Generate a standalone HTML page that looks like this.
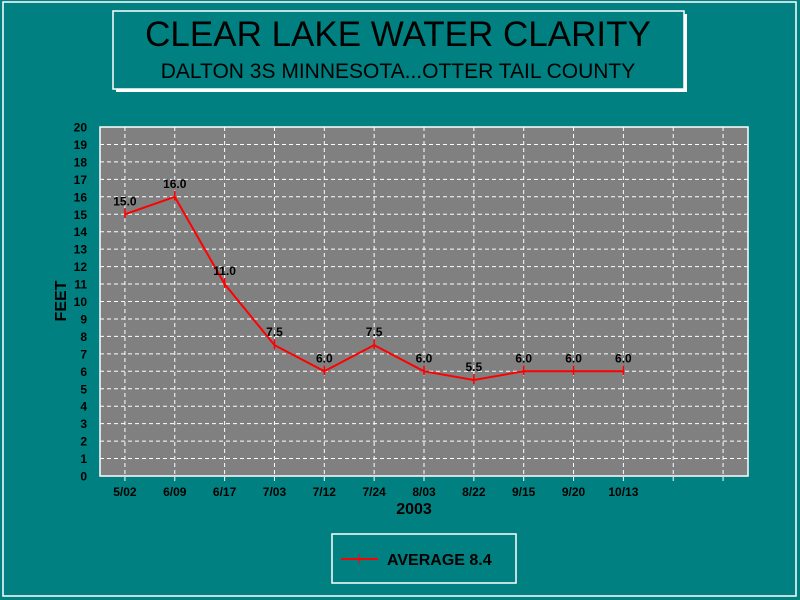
<!DOCTYPE html>
<html><head><meta charset="utf-8"><style>
body{margin:0;background:#008080;}
svg{display:block;font-family:"Liberation Sans",Arial,sans-serif;}
</style></head><body>
<svg id="chart" width="800" height="600">
<rect x="0" y="0" width="800" height="600" fill="#008080"/>
<rect x="3" y="2" width="793" height="594" fill="none" stroke="#fff" stroke-width="1.5"/>
<g>
<rect x="116" y="14" width="571" height="78" fill="#fff"/>
<rect x="113" y="11" width="571" height="78" fill="#008080" stroke="#fff" stroke-width="1.5"/>
<text x="398" y="46" font-size="35" text-anchor="middle" fill="#000">CLEAR LAKE WATER CLARITY</text>
<text x="398" y="78" font-size="21" text-anchor="middle" fill="#000">DALTON 3S MINNESOTA...OTTER TAIL COUNTY</text>
</g>
<rect x="100" y="127" width="648" height="349" fill="#808080" stroke="#fff" stroke-width="1.5"/>
<g id="grid"></g>
<g id="yticks"></g>
<g id="xticks"></g>
<text x="414" y="514" font-size="16" font-weight="bold" text-anchor="middle">2003</text>
<text transform="translate(66,301) rotate(-90)" font-size="16" font-weight="bold" text-anchor="middle">FEET</text>
<g id="series"></g>
<g>
<rect x="332" y="534" width="184" height="49" fill="none" stroke="#fff" stroke-width="1.5"/>
<line x1="341" y1="559" x2="378" y2="559" stroke="#f00" stroke-width="2"/>
<line x1="359" y1="554" x2="359" y2="564" stroke="#f00" stroke-width="1"/>
<text x="387" y="565" font-size="16" font-weight="bold">AVERAGE 8.4</text>
</g>
</svg>
<script>
const categories=["5/02","6/09","6/17","7/03","7/12","7/24","8/03","8/22","9/15","9/20","10/13","",""];
const values=[15.0,16.0,11.0,7.5,6.0,7.5,6.0,5.5,6.0,6.0,6.0];
const valueLabels=["15.0","16.0","11.0","7.5","6.0","7.5","6.0","5.5","6.0","6.0","6.0"];
const yTicks=[0,1,2,3,4,5,6,7,8,9,10,11,12,13,14,15,16,17,18,19,20];
const NS="http://www.w3.org/2000/svg";
const L=100,R=748,T=127,B=476,YMAX=20;
const slot=(R-L)/categories.length;
function xs(i){return L+slot*(i+0.5);}
function ys(v){return B-(v/YMAX)*(B-T);}
function mk(tag,attrs,parent){const e=document.createElementNS(NS,tag);for(const k in attrs)e.setAttribute(k,attrs[k]);parent.appendChild(e);return e;}
const grid=document.getElementById('grid'),yg=document.getElementById('yticks'),xg=document.getElementById('xticks'),sg=document.getElementById('series');
yTicks.forEach(t=>{
 const y=ys(t);
 if(t>0&&t<YMAX){const l=mk('line',{x1:L,x2:R,y1:y,y2:y,stroke:'#fff','stroke-dasharray':'4,3'},grid);
 
 }
 const tx=mk('text',{x:87,y:y+4.5,'font-size':12,'font-weight':'bold','text-anchor':'end'},yg);
 tx.textContent=t;
 
 
});
categories.forEach((c,i)=>{
 const x=xs(i);
 const l=mk('line',{x1:x,x2:x,y1:T,y2:B+7,stroke:'#fff','stroke-dasharray':'4,3'},grid);
 
 
 if(c){const tx=mk('text',{x:x,y:496,'font-size':12,'font-weight':'bold','text-anchor':'middle'},xg);
 tx.textContent=c;
 
 }
});
const pts=values.map((v,i)=>xs(i)+','+ys(v)).join(' ');
const pl=mk('polyline',{points:pts,fill:'none',stroke:'#f00','stroke-width':2},sg);


values.forEach((v,i)=>{
 const x=xs(i),y=ys(v);
 const m=mk('line',{x1:x,x2:x,y1:y-6,y2:y+4,stroke:'#f00','stroke-width':1.5},sg);
 
 
 const tx=mk('text',{x:x,y:y-9,'font-size':12,'font-weight':'bold','text-anchor':'middle'},sg);
 tx.textContent=valueLabels[i];
 
 
});
</script>
</body></html>
